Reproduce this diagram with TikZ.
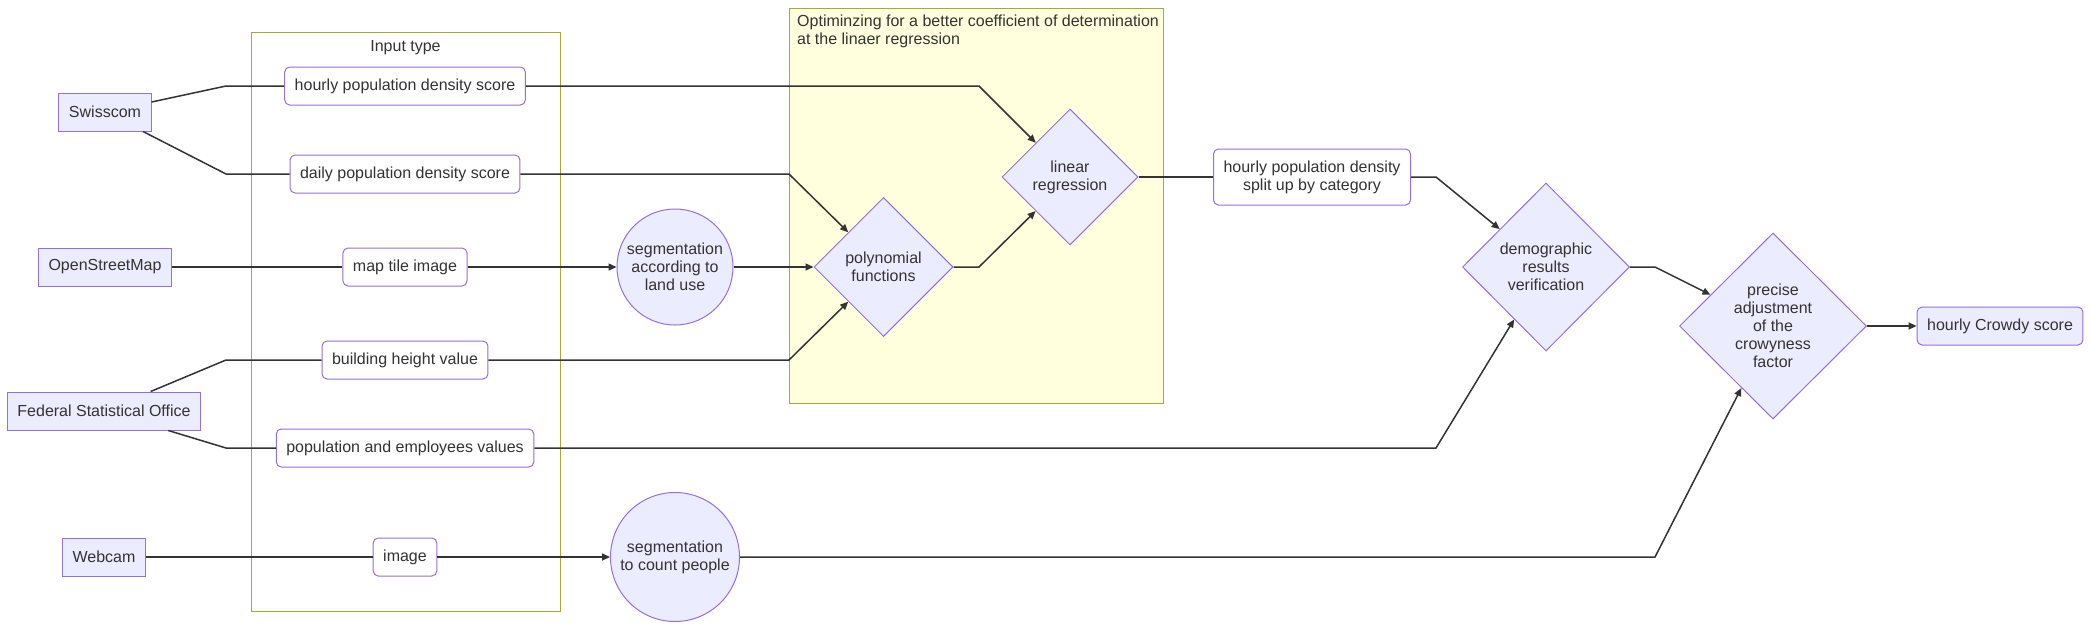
\documentclass[tikz,border=0pt]{standalone}
\usepackage{fontspec}
\setmainfont{Liberation Sans}
\usetikzlibrary{arrows.meta,shapes.geometric}
\definecolor{nfill}{HTML}{ECECFF}
\definecolor{nborder}{HTML}{9370DB}
\definecolor{cfill}{HTML}{FFFFDE}
\definecolor{cborder}{HTML}{AAAA33}
\definecolor{ink}{HTML}{333333}
\begin{document}
\begin{tikzpicture}[x=1pt,y=-1pt,
 every node/.style={font=\fontsize{16pt}{18pt}\selectfont, text=ink},
 src/.style={rectangle, draw=nborder, fill=nfill, line width=1pt, minimum height=38pt, inner xsep=10pt},
 inp/.style={rectangle, rounded corners=5pt, draw=nborder, fill=white, line width=1pt, minimum height=38pt, inner xsep=10pt},
 proc/.style={circle, draw=nborder, fill=nfill, line width=1pt, inner sep=0pt, align=center},
 dec/.style={diamond, draw=nborder, fill=nfill, line width=1pt, inner sep=0pt, align=center},
 link/.style={draw=ink, line width=1.5pt},
 flow/.style={link, -{Triangle[length=8pt,width=7pt]}},
 cluster/.style={draw=cborder, line width=1pt}]

\useasboundingbox (0,0) rectangle (2091,630);
\fill[white] (0,0) rectangle (2091,630);

% clusters
\draw[cluster, fill=white] (251,32) rectangle (560,611);
\node[anchor=base] (lbl1) at (405.5,51) {Input type};
\draw[cluster, fill=cfill] (789,8) rectangle (1163,403);
\node[anchor=north west, inner sep=0pt, align=left] (lbl2) at (797,15) {Optiminzing for a better coefficient of determination\\at the linaer regression};

% sources
\node[src] (sw) at (105,112) {Swisscom};
\node[src] (osm) at (105,267) {OpenStreetMap};
\node[src] (fso) at (104,411) {Federal Statistical Office};
\node[src] (web) at (104,557) {Webcam};

% inputs
\node[inp] (hp) at (405,86) {hourly population density score};
\node[inp] (dp) at (405,174) {daily population density score};
\node[inp] (mt) at (405,267) {map tile image};
\node[inp] (bh) at (405,360) {building height value};
\node[inp] (pe) at (405,448) {population and employees values};
\node[inp] (im) at (405,557) {image};

% processing
\node[proc, minimum size=116pt] (seg1) at (675,267) {segmentation\\according to\\land use};
\node[proc, minimum size=129pt] (seg2) at (675,557) {segmentation\\to count people};
\node[dec, minimum width=139pt, minimum height=139pt] (poly) at (883.5,267) {polynomial\\functions};
\node[dec, minimum width=136pt, minimum height=136pt] (lin) at (1070,177) {linear\\regression};
\node[inp, minimum height=56pt, align=center] (hs) at (1312,177) {hourly population density\\split up by category};
\node[dec, minimum width=167pt, minimum height=168pt] (demo) at (1546,267) {demographic\\results\\verification};
\node[dec, minimum width=187pt, minimum height=186pt] (pa) at (1773,326) {precise\\adjustment\\of the\\crowyness\\factor};
\node[src, rounded corners=5pt] (cs) at (2000,326) {hourly Crowdy score};

% bend points
\coordinate (a1) at (226,86);
\coordinate (a2) at (226,174);
\coordinate (a3) at (226,360);
\coordinate (a4) at (226,448);
\coordinate (b1) at (979,86);
\coordinate (b2) at (789,174);
\coordinate (b3) at (789,360);
\coordinate (b4) at (979,267);
\coordinate (c1) at (1436,177);
\coordinate (c2) at (1436,448);
\coordinate (c3) at (1655,267);
\coordinate (c4) at (1655,557);

% connectors
\draw[link] (sw) -- (a1) -- (hp);
\draw[link] (sw) -- (a2) -- (dp);
\draw[link] (osm) -- (mt);
\draw[link] (fso) -- (a3) -- (bh);
\draw[link] (fso) -- (a4) -- (pe);
\draw[link] (web) -- (im);
\draw[flow] (hp) -- (b1) -- (lin);
\draw[flow] (dp) -- (b2) -- (poly);
\draw[flow] (mt) -- (seg1);
\draw[flow] (seg1) -- (poly);
\draw[flow] (bh) -- (b3) -- (poly);
\draw[flow] (im) -- (seg2);
\draw[flow] (poly) -- (b4) -- (lin);
\draw[link] (lin) -- (hs);
\draw[flow] (hs) -- (c1) -- (demo);
\draw[flow] (pe) -- (c2) -- (demo);
\draw[flow] (demo) -- (c3) -- (pa);
\draw[flow] (seg2) -- (c4) -- (pa);
\draw[flow] (pa) -- (cs);
\end{tikzpicture}
\end{document}
